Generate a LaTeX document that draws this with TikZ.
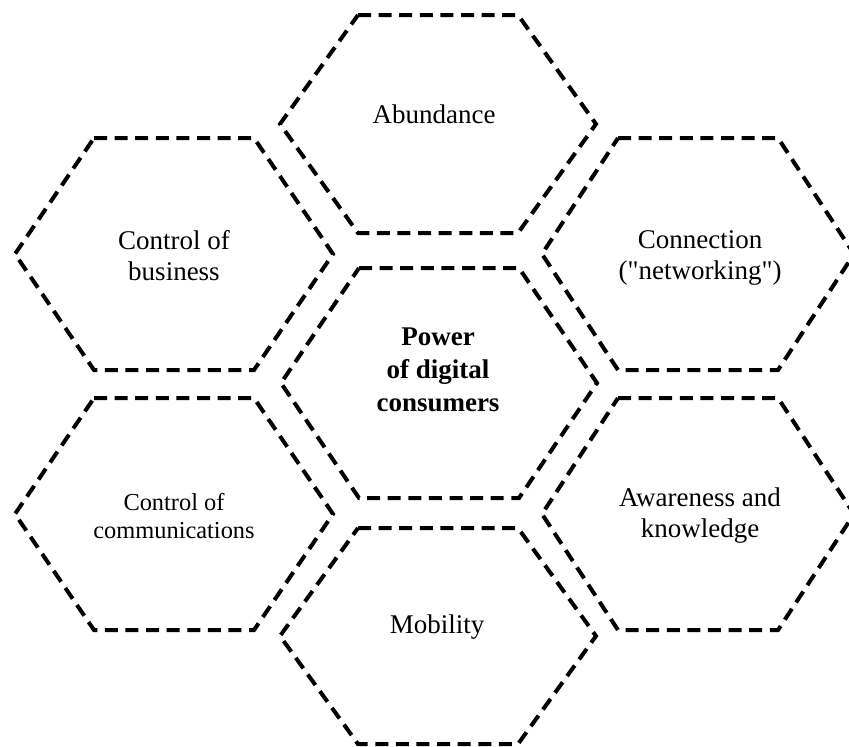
\documentclass[tikz,border=0pt]{standalone}
\usepackage{fontspec}
\setmainfont{Liberation Serif}
% \hexcell{cx}{cy}{half height}{half width}
\newcommand\hexcell[4]{%
  \draw[hexline] (#1-80,#2-#3) -- (#1+80,#2-#3) -- (#1+#4,#2) -- (#1+80,#2+#3)
    -- (#1-80,#2+#3) -- (#1-#4,#2) -- cycle;}
\begin{document}
\begin{tikzpicture}[x=0.5pt,y=-0.5pt,
  hexline/.style={line width=2pt, dash pattern=on 6.5pt off 3.8pt, line join=miter},
  lbl/.style={align=center, font=\fontsize{13.5}{15.5}\selectfont, inner sep=0pt},
  smalllbl/.style={align=center, font=\fontsize{12.2}{14}\selectfont, inner sep=0pt},
  boldlbl/.style={align=center, font=\fontsize{13.5}{16.5}\selectfont\bfseries, inner sep=0pt}]
\useasboundingbox (0,0) rectangle (849,746);
\fill[white] (0,0) rectangle (849,746);
% hexagons
\hexcell{438}{124}{109}{158}
\hexcell{174}{254}{116}{159}
\hexcell{698}{254}{116}{156}
\hexcell{439}{383}{115}{158}
\hexcell{174}{514}{116}{159}
\hexcell{698}{514}{116}{156}
\hexcell{438}{636}{108}{158}
% labels
\node[lbl] (abundance) at (434,114) {Abundance};
\node[lbl] (business) at (174,256) {Control of\\business};
\node[lbl] (connection) at (700,258) {Connection\\(\textquotedbl networking\textquotedbl)};
\node[boldlbl] (power) at (438,370) {Power\\of digital\\consumers};
\node[smalllbl] (comm) at (174,516) {Control of\\communications};
\node[lbl] (aware) at (700,516) {Awareness and\\knowledge};
\node[lbl] (mobility) at (437,627) {Mobility};
\end{tikzpicture}
\end{document}
